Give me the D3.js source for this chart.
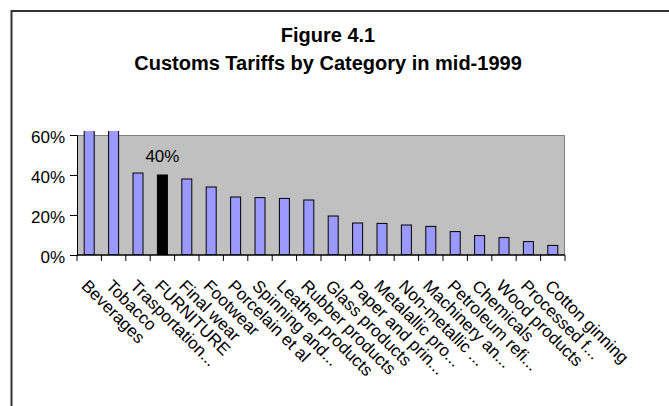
<!DOCTYPE html>
<html>
<head>
<meta charset="utf-8">
<script src="https://cdn.jsdelivr.net/npm/d3@7"></script>
<style>
  body { margin: 0; background: #fff; }
  text { font-family: "Liberation Sans", Arial, sans-serif; fill: #000; }
</style>
</head>
<body>
<svg id="chart" width="669" height="406"></svg>
<script>
  const categories = [
    'Beverages', 'Tobacco', 'Trasportation...', 'FURNITURE', 'Final wear',
    'Footwear', 'Porcelain et al', 'Spinning and...', 'Leather products',
    'Rubber products', 'Glass products', 'Paper and prin...', 'Metalallic pro...',
    'Non-metallic ...', 'Machinery an...', 'Petroleum refi...', 'Chemicals',
    'Wood products', 'Processed f...', 'Cotton ginning'
  ];
  const tariffs = [
    0.75, 0.70, 0.41, 0.40, 0.38, 0.34, 0.29, 0.287, 0.283, 0.275,
    0.195, 0.16, 0.158, 0.15, 0.143, 0.117, 0.097, 0.087, 0.067, 0.048
  ];
  const highlight = 'FURNITURE';
  const yTicks = [0, 0.2, 0.4, 0.6];

  const svg = d3.select('#chart');
  const margin = { left: 77, top: 135, right: 104, bottom: 151 };
  const width = +svg.attr('width') - margin.left - margin.right;
  const height = +svg.attr('height') - margin.top - margin.bottom;

  // outer frame (only top and left visible in the crop)
  svg.append('path')
    .attr('d', 'M11.5,420V11H680')
    .attr('fill', 'none')
    .attr('stroke', '#333')
    .attr('stroke-width', 2);

  svg.append('text')
    .attr('x', 328).attr('y', 42)
    .attr('text-anchor', 'middle')
    .style('font-size', '20px').style('font-weight', 'bold')
    .text('Figure 4.1');
  svg.append('text')
    .attr('x', 328).attr('y', 70)
    .attr('text-anchor', 'middle')
    .style('font-size', '20px').style('font-weight', 'bold')
    .text('Customs Tariffs by Category in mid-1999');

  const g = svg.append('g').attr('transform', `translate(${margin.left},${margin.top})`);

  const x = d3.scaleBand().domain(categories).range([0, width]).paddingInner(0.59).paddingOuter(0.295);
  const y = d3.scaleLinear().domain([0, 0.6]).range([height, 0]);

  g.append('rect')
    .attr('width', width).attr('height', height)
    .attr('fill', '#c0c0c0');
  g.append('path')
    .attr('d', `M0,0.5H${width - 0.5}V${height}`)
    .attr('fill', 'none')
    .attr('stroke', '#808080')
    .attr('stroke-width', 1);

  g.append('defs').append('clipPath').attr('id', 'clip')
    .append('rect').attr('x', 0).attr('y', -4).attr('width', width).attr('height', height + 4);

  g.append('g').attr('clip-path', 'url(#clip)')
    .selectAll('rect')
    .data(categories)
    .enter()
    .append('rect')
    .attr('x', d => x(d))
    .attr('y', (d, i) => y(tariffs[i]))
    .attr('width', x.bandwidth())
    .attr('height', (d, i) => height - y(tariffs[i]))
    .attr('fill', d => d === highlight ? '#000' : '#9999ff')
    .attr('stroke', '#000')
    .attr('stroke-width', 1);

  const hi = categories.indexOf(highlight);
  g.append('text')
    .attr('x', x(highlight) + x.bandwidth() / 2)
    .attr('y', y(tariffs[hi]) - 13)
    .attr('text-anchor', 'middle')
    .style('font-size', '17px')
    .text(d3.format('.0%')(tariffs[hi]));

  const yAxis = g.append('g')
    .call(d3.axisLeft(y).tickValues(yTicks).tickFormat(d3.format('.0%')).tickSize(7).tickPadding(5));
  yAxis.select('.domain').attr('stroke', '#000');
  yAxis.selectAll('text').style('font-size', '17px').attr('fill', '#000').attr('dy', '0.45em');

  // x axis with ticks at band boundaries
  const xAxis = g.append('g').attr('transform', `translate(0,${height})`);
  xAxis.append('line').attr('x1', 0).attr('x2', width).attr('stroke', '#000').attr('stroke-width', 1.5);
  const step = x.step();
  xAxis.selectAll('.tick')
    .data(d3.range(categories.length + 1))
    .enter()
    .append('line')
    .attr('x1', i => i * step).attr('x2', i => i * step)
    .attr('y1', 0).attr('y2', 6)
    .attr('stroke', '#000');

  xAxis.selectAll('.label')
    .data(categories)
    .enter()
    .append('text')
    .attr('transform', d => `translate(${x(d) + x.bandwidth() / 2 - 8.7},32) rotate(45)`)
    .style('font-size', '17px')
    .text(d => d);
</script>
</body>
</html>
